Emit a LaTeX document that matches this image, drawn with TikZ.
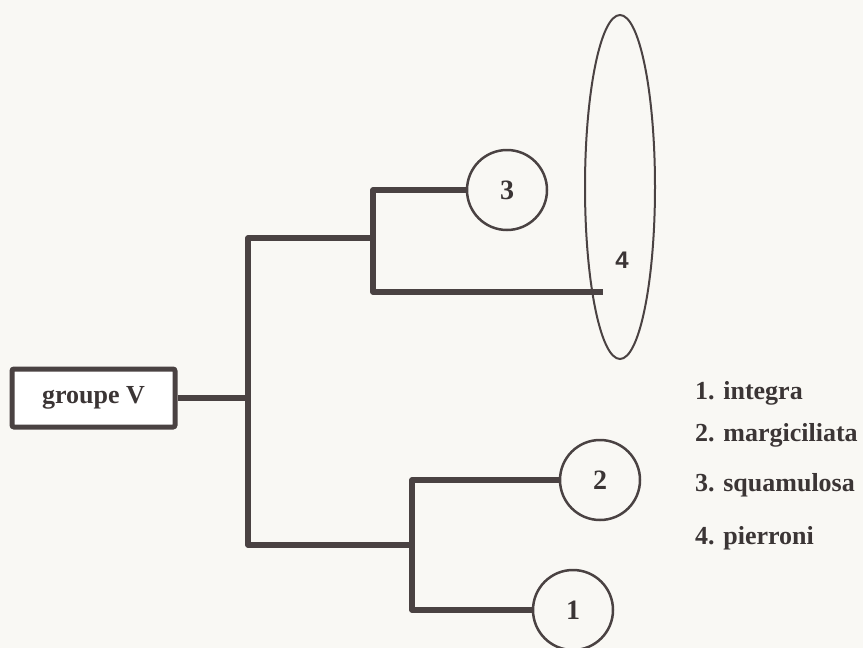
\documentclass[tikz,border=0pt]{standalone}
\usepackage{fontspec}
\setmainfont{Liberation Serif}
\newfontfamily\numfont{Liberation Sans}
\usetikzlibrary{shapes.geometric}
\definecolor{ink}{HTML}{4A4242}
\definecolor{paper}{HTML}{F9F8F4}

\begin{document}
\begin{tikzpicture}[
  x=1pt,y=-1pt,
  font=\fontsize{26}{30}\selectfont\bfseries,
  text=ink!80!black,
  branch/.style={draw=ink,line width=5.5pt,line join=round},
  grpbox/.style={draw=ink,line width=5pt,rounded corners=2pt,fill=white,
                 minimum width=163pt,minimum height=58pt,inner sep=0pt},
  taxon/.style={draw=ink,circle,line width=2.5pt,minimum size=80pt,inner sep=0pt},
  lgd/.style={anchor=west,inner sep=0pt}
]
\fill[paper] (0,0) rectangle (863,648);
\useasboundingbox (0,0) rectangle (863,648);

% species group
\node[grpbox] (grp) at (93.5,398) {groupe V};

% taxa
\node[taxon] (c3) at (507,190) {\fontsize{28}{32}\selectfont 3};
\node[taxon] (c2) at (600,480) {\fontsize{28}{32}\selectfont 2};
\node[taxon] (c1) at (573,610) {\fontsize{28}{32}\selectfont 1};
\node[draw=ink,ellipse,line width=2pt,minimum width=70pt,minimum height=344pt,
      inner sep=0pt] (e4) at (620,187) {};
\node[font=\numfont\bfseries\fontsize{24}{28}\selectfont] (n4) at (622,260) {4};

% junctions
\coordinate (root) at (248,398);
\coordinate (up) at (373,238);
\coordinate (low) at (412,545);
\coordinate (tip4) at (603,292);

\draw[branch] (grp) -- (root);
\draw[branch] (up) -| (root) |- (low);
\draw[branch] (c3.west) -| (up) |- (tip4);
\draw[branch] (c2.west) -| (low) |- (c1.west);

% legend
\node[lgd] (l1) at (695,393) {1. integra};
\node[lgd] (l2) at (695,435) {2. margiciliata};
\node[lgd] (l3) at (695,485) {3. squamulosa};
\node[lgd] (l4) at (695,538) {4. pierroni};
\end{tikzpicture}
\end{document}
